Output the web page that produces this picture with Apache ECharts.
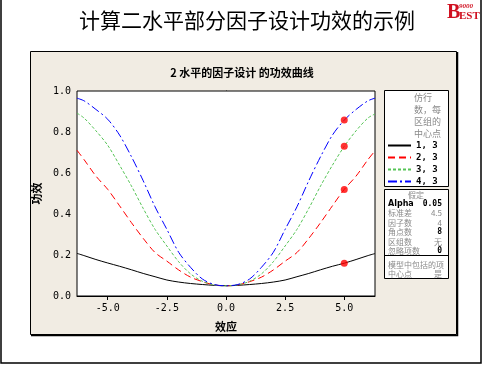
<!DOCTYPE html>
<html><head><meta charset="utf-8">
<script src="https://cdn.jsdelivr.net/npm/echarts@6/dist/echarts.min.js"></script>
<style>html,body{margin:0;padding:0;background:#fff}#c{width:485px;height:365px}</style>
</head><body><div id="c"></div>
<script>
// ---- data ----
const xs = [-6.3,-6,-5.5,-5,-4.5,-4,-3.5,-3,-2.5,-2,-1.5,-1,-0.5,0,0.5,1,1.5,2,2.5,3,3.5,4,4.5,5,5.5,6,6.3];
const rep1 = [0.208,0.197,0.178,0.161,0.145,0.128,0.11,0.094,0.078,0.068,0.061,0.056,0.052,0.05,0.052,0.056,0.061,0.068,0.078,0.094,0.11,0.128,0.145,0.16,0.178,0.197,0.207];
const rep2 = [0.711,0.665,0.585,0.52,0.44,0.358,0.281,0.212,0.17,0.127,0.092,0.07,0.054,0.05,0.054,0.07,0.092,0.127,0.17,0.212,0.281,0.358,0.44,0.52,0.585,0.665,0.708];
const rep3 = [0.892,0.868,0.806,0.735,0.638,0.537,0.427,0.325,0.244,0.167,0.108,0.072,0.054,0.05,0.054,0.072,0.108,0.167,0.244,0.325,0.427,0.537,0.638,0.73,0.806,0.868,0.888];
const rep4 = [0.965,0.952,0.91,0.862,0.785,0.68,0.562,0.435,0.325,0.213,0.14,0.083,0.056,0.05,0.056,0.083,0.14,0.213,0.325,0.435,0.562,0.68,0.785,0.858,0.91,0.952,0.965];
const seriesNames = ['1, 3','2, 3','3, 3','4, 3'];
const dotX = [5,5,5,5];
const dotY = [0.16,0.52,0.73,0.858];
const xTicks = [-5,-2.5,0,2.5,5];
const mainTitle = '计算二水平部分因子设计功效的示例';
const subTitle = '2 水平的因子设计 的功效曲线';
const legendHead = ['仿行','数，每','区组的','中心点'];
const assumeRows = [['Alpha','0.05'],['标准差','4.5'],['因子数','4'],['角点数','8'],['区组数','无'],['忽略项数','0']];

// ---- chart ----
const chart = echarts.init(document.getElementById('c'));
const pair = ys => xs.map((x,i)=>[x,ys[i]]);
const colors = ['#000000','#ff0000','#55c455','#0000ff'];
const dashes = ['solid',[7,4],[3,2],[9,3,2,3]];
const allY = [rep1,rep2,rep3,rep4];
const series = allY.map((ys,i)=>({
  type:'line', name:seriesNames[i], data:pair(ys), symbol:'none', smooth:0.3,
  lineStyle:{color:colors[i], width:1, type:dashes[i]}, itemStyle:{color:colors[i]}, z:3
}));
series.push({type:'scatter', data:dotX.map((x,i)=>[x,dotY[i]]), symbolSize:7,
  itemStyle:{color:'#ff0000'}, z:5, silent:true});

const g = [];
g.push({type:'rect', shape:{x:1,y:-5,width:480,height:368}, style:{fill:'#fff',stroke:'#000',lineWidth:1.5}, z:-20});
g.push({type:'rect', shape:{x:30.5,y:51.5,width:426,height:283}, style:{fill:'#f1ece3',stroke:'#000',lineWidth:1}, z:-10});
g.push({type:'polyline', shape:{points:[[457.5,52],[457.5,335.5],[31,335.5]]}, style:{stroke:'#000',lineWidth:1.5,fill:null}, z:-9});
g.push({type:'text', x:247, y:20, style:{text:mainTitle, font:'21px "Noto Sans CJK SC"', fill:'#000', align:'center', verticalAlign:'middle'}});
g.push({type:'text', x:447, y:13, style:{text:'B', font:'bold 20px "Liberation Serif"', fill:'#d01020', align:'left', verticalAlign:'middle'}});
g.push({type:'text', x:459, y:16, style:{text:'EST', font:'bold 11px "Liberation Serif"', fill:'#d01020', align:'left', verticalAlign:'middle'}});
g.push({type:'text', x:459, y:6, style:{text:'9000', font:'italic bold 7px "Liberation Serif"', fill:'#d01020', align:'left', verticalAlign:'middle'}});
g.push({type:'text', x:242, y:73, style:{text:subTitle, font:'bold 11px "Noto Sans CJK SC"', fill:'#000', align:'center', verticalAlign:'middle'}});
// legend box
g.push({type:'rect', shape:{x:384.5,y:90.5,width:64,height:96}, style:{fill:'#fff',stroke:'#000',lineWidth:1}, z:1});
legendHead.forEach((t,i)=>g.push({type:'text', x:414, y:98+i*12, style:{text:t, font:'9px "Noto Sans CJK SC"', fill:'#8a8a8a', align:'left', verticalAlign:'middle'}, z:2}));
// assumptions box
g.push({type:'rect', shape:{x:384.5,y:189.5,width:64,height:89}, style:{fill:'#fff',stroke:'#000',lineWidth:1}, z:1});
g.push({type:'line', shape:{x1:385,y1:255.5,x2:448,y2:255.5}, style:{stroke:'#000',lineWidth:1}, z:2});
g.push({type:'text', x:416, y:195, style:{text:'假定', font:'8px "Noto Sans CJK SC"', fill:'#8a8a8a', align:'center', verticalAlign:'middle'}, z:2});
assumeRows.forEach((r,i)=>{
  const y = 204 + i*9.4;
  const bold = i===0;
  const vb = (i===0||i===3||i===5);
  g.push({type:'text', x:388, y:y, style:{text:r[0], font:(bold?'bold 8px "DejaVu Sans"':'8px "Noto Sans CJK SC"'), fill:bold?'#000':'#8a8a8a', align:'left', verticalAlign:'middle'}, z:2});
  g.push({type:'text', x:442, y:y, style:{text:r[1], font:(vb?'bold 8px "DejaVu Sans Mono"':'8px "Noto Sans CJK SC"'), fill:vb?'#000':'#8a8a8a', align:'right', verticalAlign:'middle'}, z:2});
});
g.push({type:'text', x:388, y:264.5, style:{text:'模型中包括的项', font:'8px "Noto Sans CJK SC"', fill:'#8a8a8a', align:'left', verticalAlign:'middle'}, z:2});
g.push({type:'text', x:388, y:273.5, style:{text:'中心点', font:'8px "Noto Sans CJK SC"', fill:'#8a8a8a', align:'left', verticalAlign:'middle'}, z:2});
g.push({type:'text', x:442, y:273.5, style:{text:'是', font:'8px "Noto Sans CJK SC"', fill:'#8a8a8a', align:'right', verticalAlign:'middle'}, z:2});

const axisFont = {fontFamily:'"DejaVu Sans Mono"', fontSize:10, color:'#000'};
chart.setOption({
  animation:false,
  backgroundColor:'#fff',
  graphic:g,
  grid:{left:77, top:91, right:110, bottom:69, show:true, backgroundColor:'#fff', borderColor:'#000', borderWidth:1, z:1},
  legend:{orient:'vertical', left:387, top:141, itemWidth:23, itemHeight:8, itemGap:3, z:4,
    data:seriesNames, itemStyle:{opacity:0},
    textStyle:{fontFamily:'"DejaVu Sans Mono"', fontWeight:'bold', fontSize:9, color:'#000'}, padding:0},
  xAxis:{type:'value', min:-6.3, max:6.3, name:'效应', nameLocation:'middle', nameGap:25,
    nameTextStyle:{fontFamily:'"Noto Sans CJK SC"', fontWeight:'bold', fontSize:11, color:'#000'},
    axisLine:{lineStyle:{color:'#000'}}, axisTick:{customValues:xTicks, length:4, lineStyle:{color:'#000'}},
    axisLabel:{customValues:xTicks, formatter:v=>v.toFixed(1), margin:7, ...axisFont},
    splitLine:{show:true, lineStyle:{color:'#c0c0c0', type:[4,3]}}},
  yAxis:{type:'value', min:0, max:1, interval:0.2, name:'功效', nameLocation:'middle', nameGap:29,
    nameTextStyle:{fontFamily:'"Noto Sans CJK SC"', fontWeight:'bold', fontSize:11, color:'#000'},
    axisLine:{show:true, lineStyle:{color:'#000'}}, axisTick:{show:true, length:4, lineStyle:{color:'#000'}},
    axisLabel:{formatter:v=>v.toFixed(1), margin:6, ...axisFont},
    splitLine:{show:true, lineStyle:{color:'#c0c0c0', type:[4,3]}}},
  series:series
});
</script></body></html>
